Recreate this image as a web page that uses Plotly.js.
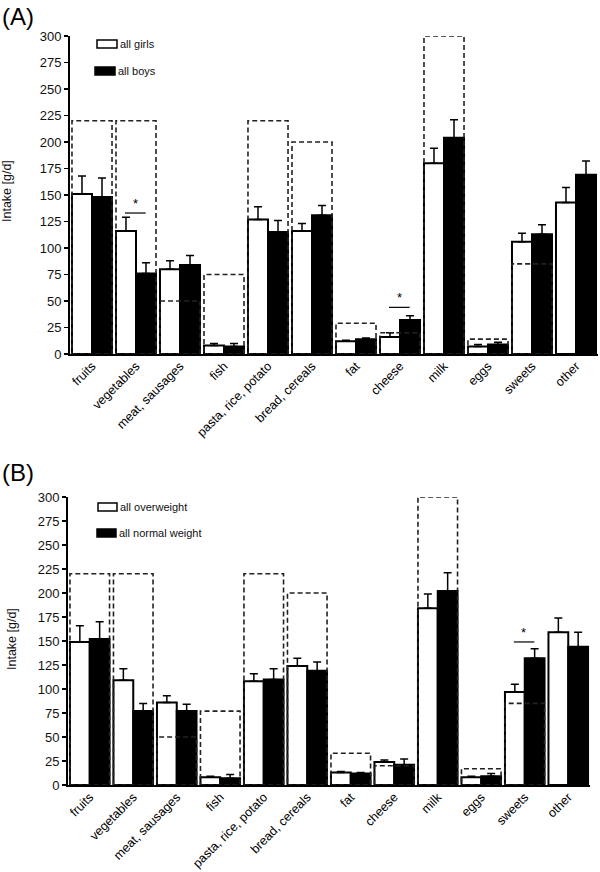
<!DOCTYPE html>
<html>
<head>
<meta charset="utf-8">
<script src="https://cdn.plot.ly/plotly-3.0.1.min.js"></script>
<style>html,body{margin:0;padding:0;background:#fff;}#chart{width:600px;height:872px;}</style>
</head>
<body>
<div id="chart"></div>
<script>
// ---- data ----
const categories = ["fruits","vegetables","meat, sausages","fish","pasta, rice, potato","bread, cereals","fat","cheese","milk","eggs","sweets","other"];
const tickValuesY = [0,25,50,75,100,125,150,175,200,225,250,275,300];

// Panel A: girls vs boys
const girls    = [151,116,80,8,127,116,12,16,180,7,106,143];
const girlsErr = [17,13,8,2,12,7,1,4,14,2,8,14];
const boys     = [148,76,84,7,115,131,14,32,204,9,113,169];
const boysErr  = [18,10,9,3,11,9,1,4,17,2,9,13];
const recommendedA = [220,220,50,75,220,200,29,20,300,14,85,null];
const sigA = [{cat:1, y:133}, {cat:7, y:44}];

// Panel B: overweight vs normal weight
const overweight    = [149,109,86,8,108,124,13,24,184,8,97,159];
const overweightErr = [17,12,7,1,8,8,1,2,15,1,8,15];
const normalWeight    = [152,77,77,7,110,119,12,21,202,9,132,144];
const normalWeightErr = [18,8,7,4,11,9,1,6,19,3,10,15];
const recommendedB = [220,220,50,77,220,200,33,20,300,17,85,null];
const sigB = [{cat:10, y:149}];

const legendA = ["all girls","all boys"];
const legendB = ["all overweight","all normal weight"];
const yTitle = "Intake [g/d]";

// ---- helpers ----
const W = 600, H = 872;
const px = x => x / W;
const py = y => 1 - y / H;
const FONT = "Liberation Sans, Arial, sans-serif";
const zeros = n => new Array(n).fill(0);

function barTrace(vals, errs, fill, xa, ya) {
  return {
    type: 'bar', x: categories, y: vals, xaxis: xa, yaxis: ya,
    marker: {color: fill, line: {color: '#000', width: 2}},
    error_y: {type: 'data', symmetric: false, array: errs, arrayminus: zeros(errs.length),
              color: '#000', thickness: 1.5, width: 4},
    showlegend: false, hoverinfo: 'skip'
  };
}

const data = [
  barTrace(girls, girlsErr, '#fff', 'x', 'y'),
  barTrace(boys, boysErr, '#000', 'x', 'y'),
  barTrace(overweight, overweightErr, '#fff', 'x2', 'y2'),
  barTrace(normalWeight, normalWeightErr, '#000', 'x2', 'y2')
];

const shapes = [];
const annotations = [];

function recBoxes(rec, xr, yr) {
  rec.forEach((v, i) => {
    if (v == null) return;
    shapes.push({type: 'rect', xref: xr, yref: yr, x0: i - 0.455, x1: i + 0.455, y0: 0, y1: v,
                 line: {color: '#222', width: 1.6, dash: '5px,3px'}, fillcolor: 'rgba(0,0,0,0)', layer: 'above'});
  });
}
recBoxes(recommendedA, 'x', 'y');
recBoxes(recommendedB, 'x2', 'y2');

function sigMarks(list, xr, yr) {
  list.forEach(s => {
    shapes.push({type: 'line', xref: xr, yref: yr, x0: s.cat - 0.25, x1: s.cat + 0.22, y0: s.y, y1: s.y,
                 line: {color: '#000', width: 1.2}});
    annotations.push({xref: xr, yref: yr, x: s.cat - 0.02, y: s.y, yanchor: 'bottom', yshift: 0,
                      text: '*', showarrow: false, font: {family: FONT, size: 13, color: '#000'}});
  });
}
sigMarks(sigA, 'x', 'y');
sigMarks(sigB, 'x2', 'y2');

// legends (manual swatches)
function legendItem(x0, x1, y0, y1, fill, label) {
  shapes.push({type: 'rect', xref: 'paper', yref: 'paper', x0: px(x0), x1: px(x1), y0: py(y1), y1: py(y0),
               fillcolor: fill, line: {color: '#000', width: 1.5}});
  annotations.push({xref: 'paper', yref: 'paper', x: px(x1 + 1), y: py((y0 + y1) / 2), xanchor: 'left', yanchor: 'middle',
                    text: label, showarrow: false, font: {family: FONT, size: 11, color: '#111'}});
}
legendItem(97, 117, 40, 48, '#fff', legendA[0]);
legendItem(95, 115, 67, 75, '#000', legendA[1]);
legendItem(98, 117, 503, 511, '#fff', legendB[0]);
legendItem(97, 116, 529, 537, '#000', legendB[1]);

// panel labels
annotations.push({xref: 'paper', yref: 'paper', x: px(0), y: py(16), xanchor: 'left', yanchor: 'middle',
                  text: '(A)', showarrow: false, font: {family: FONT, size: 24, color: '#000'}});
annotations.push({xref: 'paper', yref: 'paper', x: px(0), y: py(472), xanchor: 'left', yanchor: 'middle',
                  text: '(B)', showarrow: false, font: {family: FONT, size: 24, color: '#000'}});
// y-axis titles
annotations.push({xref: 'paper', yref: 'paper', x: px(7), y: py(191), textangle: -90, xanchor: 'center', yanchor: 'middle',
                  text: yTitle, showarrow: false, font: {family: FONT, size: 12.5, color: '#111'}});
annotations.push({xref: 'paper', yref: 'paper', x: px(12), y: py(639), textangle: -90, xanchor: 'center', yanchor: 'middle',
                  text: yTitle, showarrow: false, font: {family: FONT, size: 12.5, color: '#111'}});

function xAxis(domain, anchor) {
  return {domain: domain, anchor: anchor, type: 'category', range: [-0.5, 11.5], tickangle: -45,
          showline: true, linecolor: '#000', linewidth: 2, ticks: '', showgrid: false, zeroline: false,
          ticklabelstandoff: -2,
          tickfont: {family: FONT, size: 12.5, color: '#000'}, automargin: false, fixedrange: true};
}
function yAxis(domain, anchor) {
  return {domain: domain, anchor: anchor, range: [0, 300], tickvals: tickValuesY, ticks: 'outside', ticklen: 4,
          tickwidth: 1.5, tickcolor: '#000', showline: true, linecolor: '#000', linewidth: 2, showgrid: false,
          zeroline: false, tickfont: {family: FONT, size: 13, color: '#111'}, automargin: false, fixedrange: true};
}

const layout = {
  width: W, height: H, margin: {l: 0, r: 0, t: 0, b: 0}, paper_bgcolor: '#fff', plot_bgcolor: '#fff',
  barmode: 'group', bargap: 0.09, bargroupgap: 0, showlegend: false,
  xaxis: xAxis([px(70), px(598)], 'y'),
  yaxis: yAxis([py(354), py(36)], 'x'),
  xaxis2: xAxis([px(68), px(590)], 'y2'),
  yaxis2: yAxis([py(785), py(497)], 'x2'),
  shapes: shapes, annotations: annotations
};

Plotly.newPlot('chart', data, layout, {staticPlot: true, displayModeBar: false});
</script>
</body>
</html>
